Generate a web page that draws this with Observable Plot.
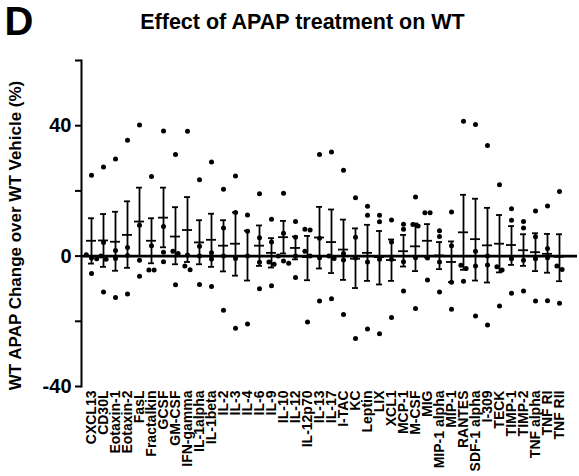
<!DOCTYPE html>
<html>
<head>
<meta charset="utf-8">
<script src="https://cdn.jsdelivr.net/npm/d3@7"></script>
<script src="https://cdn.jsdelivr.net/npm/@observablehq/plot@0.6"></script>
<style>
  html, body { margin: 0; padding: 0; background: #fff; }
  #chart svg text { font-weight: bold; }
</style>
</head>
<body>
<div id="chart"></div>
<script>
const cats = ["CXCL13","CD30L","Eotaxin-1","Eotaxin-2","FasL","Fractalkin","GCSF","GM-CSF","IFN-gamma","IL-1alpha","IL-1beta","IL-2","IL-3","IL-4","IL-6","IL-9","IL-10","IL-12","IL-12p70","IL-13","IL-17","I-TAC","KC","Leptin","LIX","XCL1","MCP-1","M-CSF","MIG","MIP-1 alpha","MIP-1","RANTES","SDF-1 alpha","I-309","TECK","TIMP-1","TIMP-2","TNF alpha","TNF RI","TNF RII"];

const means = [4.7,4.8,4.4,6.5,10.6,4.7,11.8,6,8,4.2,5,3.2,3.8,0,3.2,1,5.8,2.5,-0.3,5.7,4.3,2,-0.8,1,-0.3,-1.2,1.5,3,4.7,0.2,-1.8,7.3,5.2,3.3,3.8,3.4,1.8,1.2,0.7,-0.2];

const upper = [11.6,12.9,13.6,16.8,21,11.6,21,15,18.1,11,13,11,13.4,7.8,9.4,5.5,10.8,6,6.2,15.1,14.3,11.2,8.5,9.6,7.7,5.1,6.5,10,9.8,4.3,4.5,18.8,17.6,14.8,12.6,9.2,6.7,7,6.8,6.7];

const lower = [-2.3,-3.3,-4.5,-3.6,0,-2.2,2.7,-2.5,-1.8,-2.5,-3.3,-4.7,-6,-7.5,-3,-3.5,0.8,-1,-7.4,-3.8,-5.2,-7.3,-9.8,-7.6,-8.7,-7.6,-3.2,-4.6,-0.4,-4,-8,-4.2,-7.5,-8.1,-5,-2.7,-3,-4.6,-5.1,-7.7];

const points = [
  [24.8, 0.4, -0.6, -0.8, -5.3],
  [27.3, 4.2, 0, -1, -11],
  [29.8, 1.7, -0.7, -12.7],
  [35.5, 2.6, 0.2, -11.6],
  [40.2, 9.5, -1.3, -6.2],
  [24.4, 3.2, -4.3, -4.3],
  [38.4, 9.1, 1.2, -1.7],
  [31.2, 1.5, 0.8, -8.8],
  [38.3, 0.3, -3.0, -4.2],
  [23.4, 3, 0, -8.7],
  [28.9, 1, -0.9, -9.3],
  [20.5, 8.6, 0, -16.6],
  [24.6, 13.4, -0.7, -22.1],
  [12.6, 7.6, 0, -20.8],
  [19.1, 5.6, -1.9, -10],
  [11.3, 4.3, -1.8, -2.5, -9.1],
  [19.3, 7, 0, -1.5, -2.2],
  [10.6, 5.8, 0, -6.6],
  [8, 8.2, 1.5, 0, -20.2],
  [31.2, 5.5, -0.5, -13.8],
  [31.9, 0, -0.7, -13.1],
  [26.3, 0.8, -1.2, -17.9],
  [17.9, 5.8, -0.6, -25.3],
  [15.3, 12.5, -1.8, -22.4],
  [12.5, 10.5, -1, -23.8],
  [11.1, 4.3, -1, -18.8],
  [9.8, 8.2, -1.7, -10.7],
  [18.1, 9.7, 9.2, -0.5, -16.1],
  [13.3, 13.3, -0.6, -7.3],
  [7.8, 6, -1.8, -11],
  [13.5, 3.2, -8, -16.3],
  [41.4, -2.8, -3.8, -7.7],
  [40.4, 1.5, -3, -18.4],
  [33.9, 0, -2.7, -21.1],
  [21.9, -3.3, -4.3, -15.3],
  [14.5, 11, -0.8, -11.4],
  [10.6, 8.6, -1.3, -10.7],
  [13.8, 5.9, -0.8, -13.8],
  [15.4, 2.3, -0.5, -13.7],
  [19.8, -3, -4.1, -14.5]
];

const yTicks = [-40, -20, 0, 20, 40, 60];
const yLabels = [-40, 0, 40];

const summary = cats.map((c, i) => ({cat: c, mean: means[i], hi: upper[i], lo: lower[i]}));

// column scatter: spread overlapping dots sideways
const pts = [];
cats.forEach((c, i) => {
  const vs = points[i].slice().sort((a, b) => b - a);
  let cluster = [];
  const flush = () => {
    const k = cluster.length;
    cluster.forEach((v, j) => pts.push({cat: c, v, off: Math.round((j - (k - 1) / 2) * 52) / 10}));
    cluster = [];
  };
  vs.forEach(v => {
    if (cluster.length && Math.abs(cluster[cluster.length - 1] - v) >= 1.6) flush();
    cluster.push(v);
  });
  flush();
});
const offsets = Array.from(new Set(pts.map(d => d.off)));

const chart = Plot.plot({
  width: 579,
  height: 476,
  marginTop: 60,
  marginBottom: 90,
  marginLeft: 81,
  marginRight: 2,
  style: {fontFamily: "'Liberation Sans', Arial, sans-serif", background: "#fff", color: "#000"},
  x: {type: "band", domain: cats, range: [79.87, 570.13], padding: 0, label: null},
  y: {domain: [-40, 60], label: null},
  marks: [
    Plot.axisX({tickSize: 0, tickRotate: -90, tickPadding: 4, fontSize: 14, label: null}),
    Plot.axisY({ticks: yTicks, tickSize: 6, strokeWidth: 2, tickPadding: 4, fontSize: 20,
      tickFormat: d => yLabels.includes(d) ? String(d) : "", label: null}),
    Plot.frame({anchor: "left", strokeWidth: 2}),
    Plot.ruleY([0], {strokeWidth: 2.6}),
    Plot.ruleX(summary, {x: "cat", y1: "lo", y2: "hi", strokeWidth: 1.8}),
    Plot.tickY(summary, {x: "cat", y: "hi", strokeWidth: 1.8, insetLeft: 3, insetRight: 3}),
    Plot.tickY(summary, {x: "cat", y: "lo", strokeWidth: 1.8, insetLeft: 3, insetRight: 3}),
    Plot.tickY(summary, {x: "cat", y: "mean", strokeWidth: 1.8, insetLeft: 1, insetRight: 1}),
    ...offsets.map(o => Plot.dot(pts.filter(d => d.off === o), {x: "cat", y: "v", dx: o, r: 2.5, fill: "#000", stroke: null})),
    Plot.text(["WT APAP Change over WT Vehicle (%)"], {frameAnchor: "left", rotate: -90, dx: -66, dy: 12,
      fontSize: 17, textAnchor: "middle", lineAnchor: "middle"}),
    Plot.text(["Effect of APAP treatment on WT"], {frameAnchor: "top-left", dx: 221, dy: -47,
      fontSize: 21.5, textAnchor: "middle", lineAnchor: "top"}),
    Plot.text(["D"], {frameAnchor: "top-left", dx: -77, dy: -54, fontSize: 40,
      textAnchor: "start", lineAnchor: "top"})
  ]
});
document.getElementById("chart").appendChild(chart);
</script>
</body>
</html>
